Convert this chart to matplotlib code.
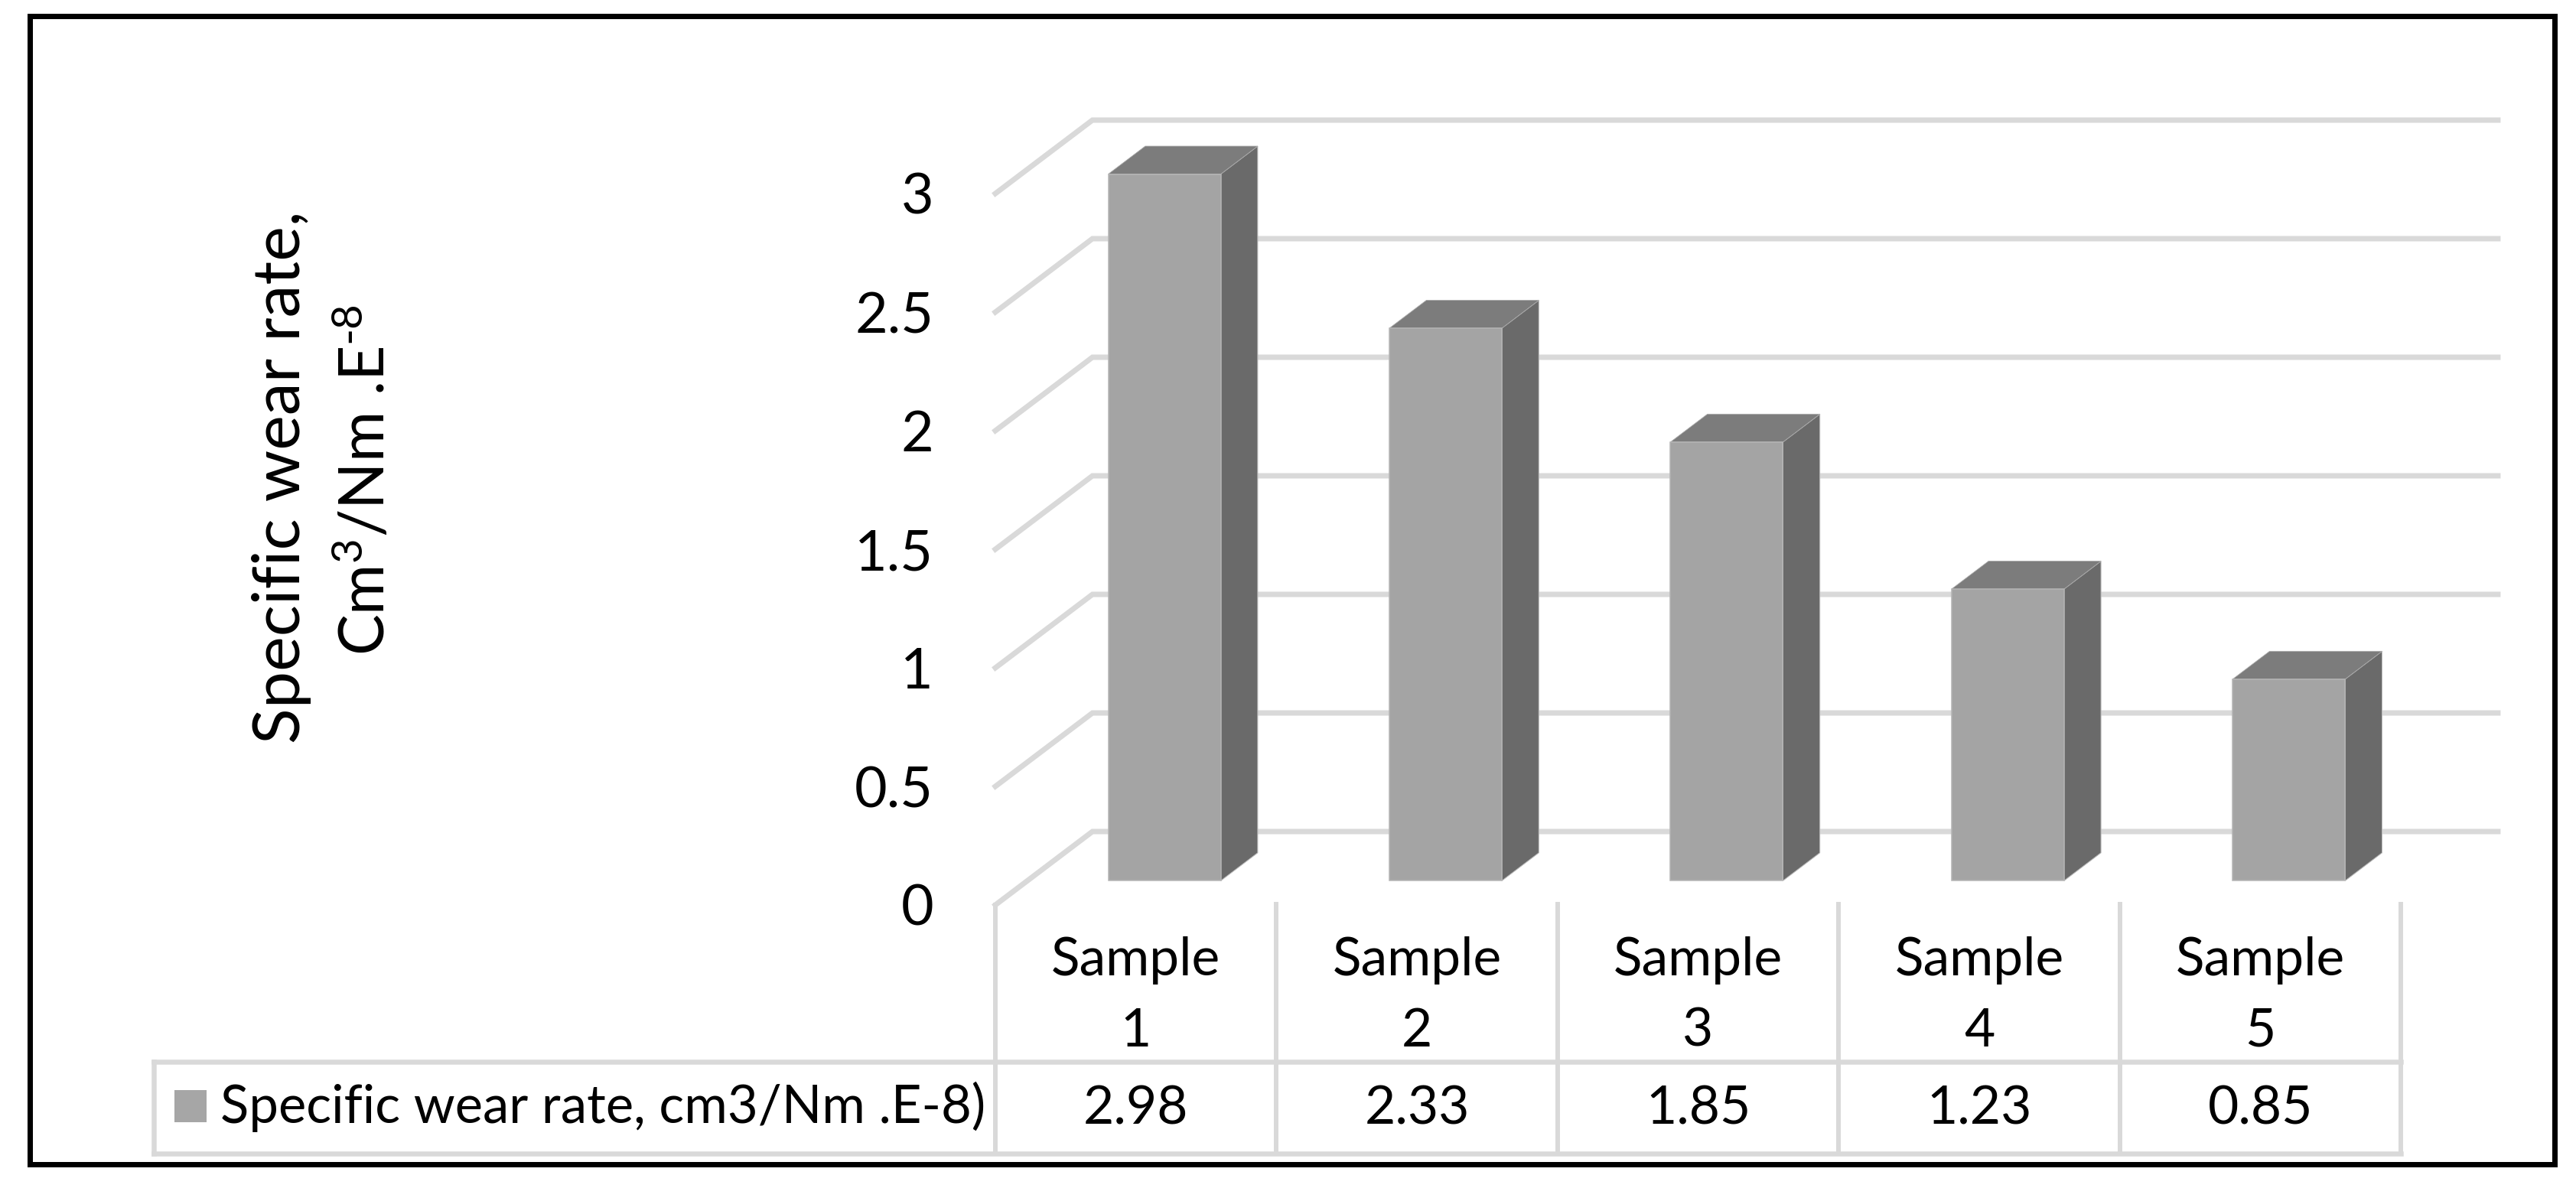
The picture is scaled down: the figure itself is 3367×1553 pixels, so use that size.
import matplotlib
matplotlib.use('Agg')
import matplotlib.pyplot as plt
from matplotlib.patches import Rectangle

plt.rcParams['font.family'] = ['Lato', 'DejaVu Sans']
plt.rcParams['mathtext.default'] = 'regular'

W, H = 3367, 1553
DPI = 100

categories = ['Sample\n1', 'Sample\n2', 'Sample\n3', 'Sample\n4', 'Sample\n5']
wear_rate = [2.98, 2.33, 1.85, 1.23, 0.85]
wear_labels = ['2.98', '2.33', '1.85', '1.23', '0.85']
y_ticks = [0, 0.5, 1, 1.5, 2, 2.5, 3]
y_tick_labels = ['0', '0.5', '1', '1.5', '2', '2.5', '3']
legend_text = 'Specific wear rate, cm3/Nm .E-8)'

GRID = '#d9d9d9'
FRONT = '#a4a4a4'
TOP = '#7c7c7c'
SIDE = '#6a6a6a'

# wall depth in data units (1 category = 367.6 px, 1 y unit = 310 px)
DX, DY = 127 / 367.6, 96 / 310
BAR_D0, BAR_D1 = 0.33, 0.71  # front and back of the bars, share of the depth
BAR_W = 0.40


def px_to_fig(x, y):
    return x / W, 1 - y / H


def lw(px):
    return px * 72 / DPI


fig = plt.figure(figsize=(W / DPI, H / DPI), dpi=DPI, facecolor='white')

# outer black frame
fig.add_artist(Rectangle(px_to_fig(39, 1522), (3339 - 39) / W, (1522 - 21) / H,
                         transform=fig.transFigure, fill=False, ec='black', lw=lw(7)))

# axes box = front plane of the 3d chart
left, right, y0, y3 = 1301, 3138, 1183, 253
ax = fig.add_axes([left / W, 1 - y0 / H, (right - left) / W, (y0 - y3) / H])
ax.set_xlim(0, len(categories))
ax.set_ylim(0, 3)
ax.axis('off')

n = len(categories)

# gridlines: diagonal on the side wall, then along the back wall
for v in y_ticks:
    ax.plot([0, DX, n + DX], [v, v + DY, v + DY], color=GRID, lw=lw(7),
            clip_on=False, solid_joinstyle='miter', zorder=1)

# bars
for i, v in enumerate(wear_rate):
    x0 = i + 0.5 - BAR_W / 2 + BAR_D0 * DX - 0.012
    x1 = x0 + BAR_W
    b0 = BAR_D0 * DY
    off_x = (BAR_D1 - BAR_D0) * DX
    off_y = (BAR_D1 - BAR_D0) * DY
    ax.fill([x1, x1 + off_x, x1 + off_x, x1], [b0, b0 + off_y, b0 + v + off_y, b0 + v],
            color=SIDE, ec='#bbbbbb', lw=lw(1), clip_on=False, zorder=2)
    ax.fill([x0, x0 + off_x, x1 + off_x, x1], [b0 + v, b0 + v + off_y, b0 + v + off_y, b0 + v],
            color=TOP, ec='#a8a8a8', lw=lw(0.8), clip_on=False, zorder=2)
    ax.bar(x0, v, width=BAR_W, bottom=b0, align='edge', color=FRONT, ec='#b4b4b4',
           lw=lw(1.5), clip_on=False, zorder=3)

# y tick labels
for v, lab in zip(y_ticks, y_tick_labels):
    ax.annotate(lab, (0, v), xytext=(-(1301 - 1220) * 72 / DPI, 0), textcoords='offset points',
                ha='right', va='center_baseline', fontsize=53, color='black', annotation_clip=False)

# data table under the chart
row_top, table_bottom = 1388, 1508
table_left = 201
fx, fy = px_to_fig(table_left, table_bottom)
_, ftop = px_to_fig(0, row_top)
for i in range(n + 1):
    x_fig = (left + i * (right - left) / n) / W
    top_y = y0 if i == 0 else 1182
    fig.add_artist(plt.Line2D([x_fig, x_fig], [fy, 1 - top_y / H], color=GRID, lw=lw(6)))
for y_line in [ftop, fy]:
    fig.add_artist(plt.Line2D([fx, right / W], [y_line, y_line], color=GRID, lw=lw(6.5)))
fig.add_artist(plt.Line2D([fx, fx], [fy, ftop], color=GRID, lw=lw(6.5)))

for i, (cat, val) in enumerate(zip(categories, wear_labels)):
    x_px = left + (i + 0.5) * (right - left) / n
    first, second = cat.split('\n')
    fig.text(x_px / W, 1 - 1275 / H, first, ha='center', va='baseline', fontsize=50)
    fig.text(x_px / W, 1 - 1368 / H, second, ha='center', va='baseline', fontsize=50)
    fig.text(x_px / W, 1 - 1470 / H, val, ha='center', va='baseline', fontsize=50)

# legend key and series name
fig.add_artist(Rectangle(px_to_fig(228, 1467), 42 / W, 42 / H, transform=fig.transFigure,
                         color='#a6a6a6', lw=0))
fig.text(288 / W, 1 - 1468 / H, legend_text, ha='left', va='baseline', fontsize=49.5)

# y axis title, two rotated lines
fig.text(392 / W, 1 - 624 / H, 'Specific wear rate,', rotation=90, rotation_mode='anchor',
         ha='center', va='baseline', fontsize=62)
fig.text(503 / W, 1 - 628 / H, r'Cm$^{3}$/Nm .E$^{\text{-}8}$', rotation=90, rotation_mode='anchor',
         ha='center', va='baseline', fontsize=58)

fig.savefig('out.png', dpi=DPI, facecolor='white')
